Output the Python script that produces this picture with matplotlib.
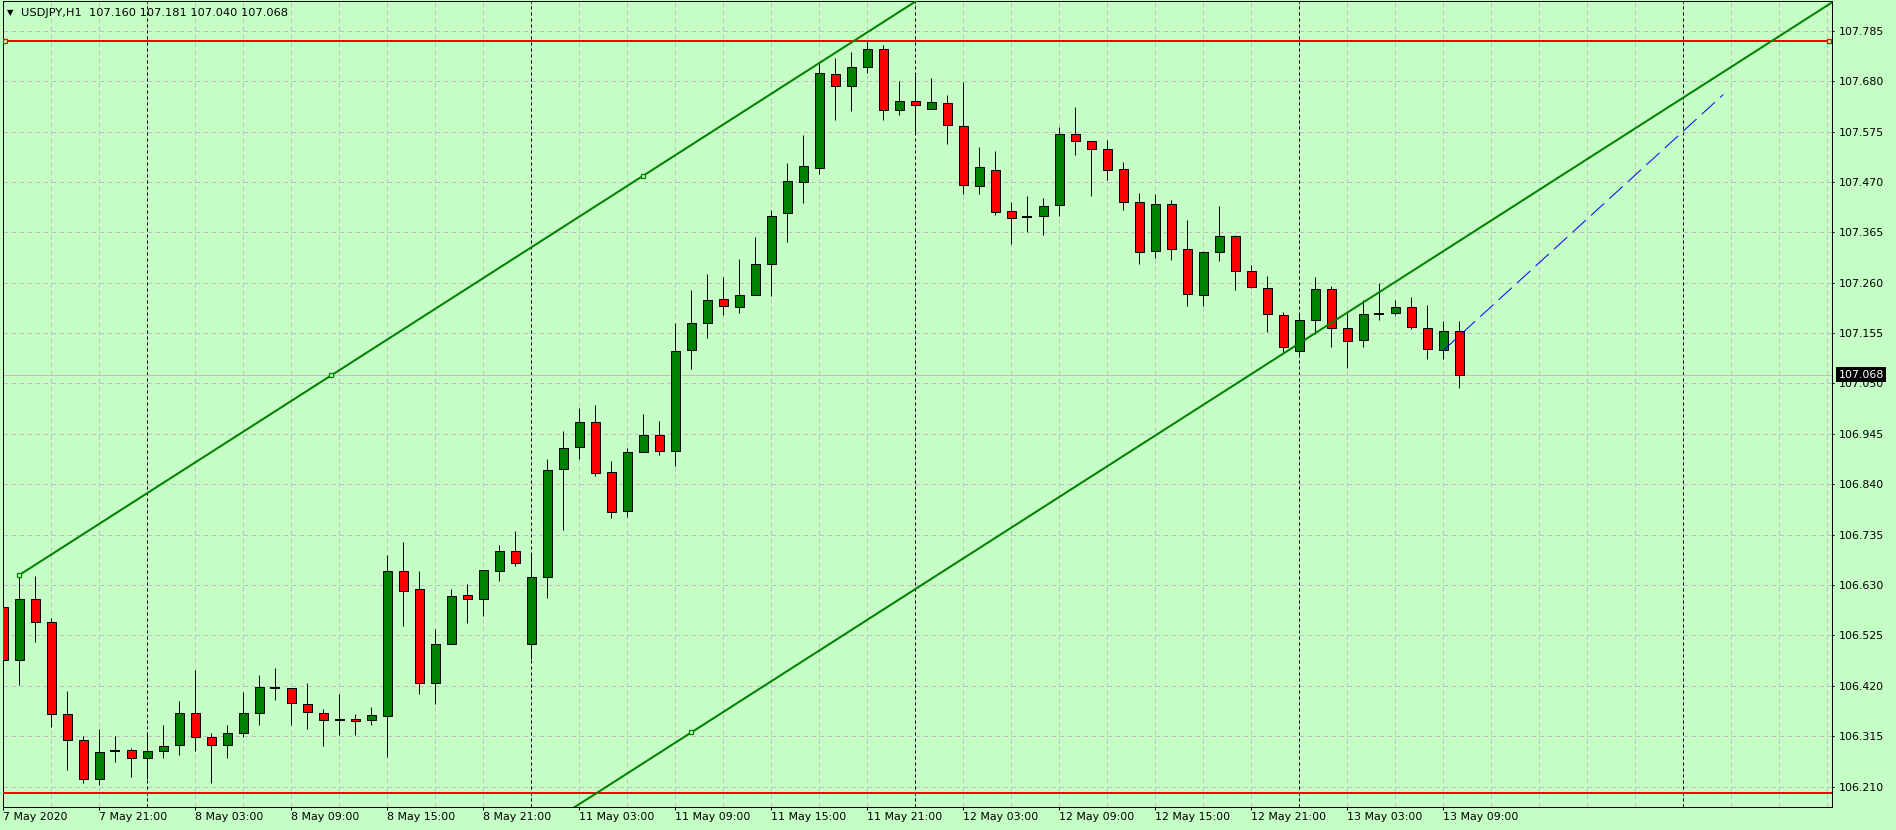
import matplotlib
matplotlib.use("Agg")
import matplotlib.pyplot as plt
from matplotlib.transforms import blended_transform_factory
import numpy as np

# ---------------- data ----------------
symbol = "USDJPY,H1"
opens = [106.584, 106.473, 106.600, 106.553, 106.361, 106.307, 106.226, 106.285, 106.286, 106.270,
         106.284, 106.297, 106.363, 106.313, 106.297, 106.322, 106.363, 106.416, 106.416, 106.382,
         106.363, 106.348, 106.352, 106.348, 106.358, 106.659, 106.621, 106.425, 106.507, 106.609,
         106.602, 106.659, 106.702, 106.507, 106.646, 106.871, 106.917, 106.969, 106.865, 106.785,
         106.907, 106.942, 106.909, 107.119, 107.176, 107.226, 107.209, 107.234, 107.298, 107.405,
         107.469, 107.500, 107.694, 107.669, 107.709, 107.746, 107.619, 107.638, 107.622, 107.634,
         107.586, 107.461, 107.495, 107.409, 107.396, 107.399, 107.422, 107.570, 107.555, 107.538,
         107.497, 107.428, 107.326, 107.424, 107.331, 107.235, 107.323, 107.358, 107.285, 107.250,
         107.192, 107.117, 107.183, 107.246, 107.165, 107.140, 107.195, 107.196, 107.210, 107.165,
         107.119, 107.160]
highs = [106.584, 106.651, 106.649, 106.561, 106.410, 106.316, 106.331, 106.316, 106.290, 106.324,
         106.339, 106.389, 106.453, 106.322, 106.339, 106.407, 106.443, 106.457, 106.416, 106.426,
         106.372, 106.403, 106.362, 106.376, 106.693, 106.720, 106.659, 106.539, 106.622, 106.632,
         106.661, 106.713, 106.742, 106.695, 106.892, 106.950, 106.998, 107.005, 106.888, 106.915,
         106.987, 106.972, 107.177, 107.245, 107.278, 107.272, 107.310, 107.355, 107.411, 107.509,
         107.567, 107.720, 107.728, 107.741, 107.764, 107.755, 107.680, 107.693, 107.687, 107.652,
         107.679, 107.543, 107.535, 107.429, 107.441, 107.437, 107.585, 107.627, 107.555, 107.558,
         107.512, 107.447, 107.445, 107.432, 107.390, 107.327, 107.419, 107.360, 107.296, 107.275,
         107.198, 107.196, 107.272, 107.254, 107.196, 107.225, 107.260, 107.223, 107.231, 107.213,
         107.181, 107.181]
lows = [106.456, 106.421, 106.512, 106.335, 106.244, 106.217, 106.213, 106.261, 106.231, 106.227,
        106.269, 106.275, 106.285, 106.217, 106.269, 106.313, 106.339, 106.390, 106.339, 106.331,
        106.294, 106.318, 106.318, 106.339, 106.271, 106.545, 106.404, 106.383, 106.507, 106.550,
        106.566, 106.639, 106.670, 106.477, 106.604, 106.745, 106.892, 106.858, 106.770, 106.772,
        106.907, 106.900, 106.879, 107.081, 107.144, 107.193, 107.196, 107.234, 107.233, 107.344,
        107.427, 107.487, 107.598, 107.618, 107.696, 107.600, 107.609, 107.575, 107.622, 107.548,
        107.444, 107.444, 107.401, 107.340, 107.365, 107.359, 107.398, 107.527, 107.440, 107.473,
        107.411, 107.299, 107.311, 107.307, 107.212, 107.212, 107.306, 107.244, 107.250, 107.158,
        107.113, 107.107, 107.154, 107.126, 107.083, 107.125, 107.183, 107.192, 107.163, 107.100,
        107.102, 107.040]
closes = [106.473, 106.600, 106.553, 106.361, 106.307, 106.226, 106.282, 106.285, 106.270, 106.284,
          106.294, 106.363, 106.313, 106.297, 106.322, 106.363, 106.417, 106.416, 106.384, 106.365,
          106.349, 106.352, 106.346, 106.359, 106.659, 106.617, 106.425, 106.507, 106.607, 106.602,
          106.661, 106.702, 106.677, 106.646, 106.869, 106.915, 106.969, 106.863, 106.783, 106.907,
          106.942, 106.909, 107.117, 107.176, 107.224, 107.211, 107.234, 107.298, 107.400, 107.471,
          107.503, 107.696, 107.669, 107.709, 107.746, 107.619, 107.639, 107.630, 107.636, 107.588,
          107.463, 107.501, 107.407, 107.395, 107.396, 107.420, 107.570, 107.555, 107.538, 107.495,
          107.428, 107.324, 107.424, 107.330, 107.237, 107.323, 107.358, 107.285, 107.252, 107.194,
          107.125, 107.183, 107.246, 107.165, 107.138, 107.194, 107.195, 107.210, 107.167, 107.121,
          107.160, 107.068]
bar_index = list(range(len(opens)))

time_label_bars = [0, 6, 12, 18, 24, 30, 36, 42, 48, 54, 60, 66, 72, 78, 84, 90]
time_labels = ["7 May 2020", "7 May 21:00", "8 May 03:00", "8 May 09:00", "8 May 15:00",
               "8 May 21:00", "11 May 03:00", "11 May 09:00", "11 May 15:00", "11 May 21:00",
               "12 May 03:00", "12 May 09:00", "12 May 15:00", "12 May 21:00", "13 May 03:00",
               "13 May 09:00"]
grid_bars = list(range(0, 115, 3))
day_separator_bars = [9, 33, 57, 81, 105]
price_ticks = [106.210, 106.315, 106.420, 106.525, 106.630, 106.735, 106.840, 106.945,
               107.050, 107.155, 107.260, 107.365, 107.470, 107.575, 107.680, 107.785]

hline_prices = [107.764, 106.197]
hline_marker_bars = [0.1, 114.1]
channel_p1 = (1, 106.651)      # main line anchor 1
channel_p2 = (40, 107.483)     # main line anchor 2
channel_mid_bar = 20.5
channel_p3 = (43, 106.323)     # parallel line anchor
projection_x = [90, 107.5]
projection_y = [107.119, 107.652]
current_price = 107.068
ohlc_last = [107.160, 107.181, 107.040, 107.068]

# ---------------- style ----------------
BG = "#C5FFC5"
BULL = "#008000"
BEAR = "#FF0000"
GRID = "#C4BCC4"
W, H = 1896, 830
DPI = 100
plt.rcParams["font.family"] = ["DejaVu Sans"]
FS = 7.9

fig = plt.figure(figsize=(W / DPI, H / DPI), dpi=DPI, facecolor=BG)
left_px, right_px, top_px, bot_px = 2.5, 1832, 1.0, 806.7
ax = fig.add_axes([left_px / W, (H - bot_px) / H, (right_px - left_px) / W, (bot_px - top_px) / H])
ax.set_facecolor(BG)

x0 = (left_px - 3.3) / 16
x1 = (right_px - 3.3) / 16
ax.set_xlim(x0, x1)
ax.set_ylim(106.1683, 107.8469)

px = 72.0 / DPI  # points per pixel

# grid (dash lengths in pixels since lw = 1 px and dashes scale with lw)
for g in grid_bars:
    ax.axvline(g, color=GRID, lw=1 * px, dashes=(4.5, 3.5), zorder=0.5)
for p in price_ticks:
    ax.axhline(p, color=GRID, lw=1 * px, dashes=(4.5, 3.5), zorder=0.5)
for d in day_separator_bars:
    ax.axvline(d, color="black", lw=1 * px, dashes=(3, 3), zorder=0.7)

# current price line
ax.axhline(current_price, color="#C0C0C0", lw=1 * px, zorder=0.8)

# candles
x = np.array(bar_index, dtype=float)
o = np.array(opens); c = np.array(closes); h = np.array(highs); l = np.array(lows)
up = c > o
dn = c < o
fl = c == o
ax.vlines(x, l, h, color="black", lw=1 * px, zorder=3)
ax.bar(x[up], (c - o)[up], bottom=o[up], width=0.57, color=BULL, edgecolor="black",
       linewidth=1 * px, zorder=4)
ax.bar(x[dn], (o - c)[dn], bottom=c[dn], width=0.57, color=BEAR, edgecolor="black",
       linewidth=1 * px, zorder=4)
ax.hlines(o[fl], x[fl] - 0.31, x[fl] + 0.31, color="black", lw=2 * px, zorder=4)

# horizontal lines
for hp in hline_prices:
    ax.axhline(hp, color="#FF0000", lw=2 * px, zorder=5)
ax.plot(hline_marker_bars, [hline_prices[0]] * 2, ls="none", marker="s", ms=4.2 * px,
        mfc=BG, mec="#FF0000", mew=1.3 * px, zorder=6)

# channel
slope = (channel_p2[1] - channel_p1[1]) / (channel_p2[0] - channel_p1[0])
xe = 130
ax.plot([channel_p1[0], xe], [channel_p1[1], channel_p1[1] + slope * (xe - channel_p1[0])],
        color=BULL, lw=2 * px, zorder=5)
off = channel_p3[1] - (channel_p1[1] + slope * (channel_p3[0] - channel_p1[0]))
ax.plot([channel_p1[0], xe],
        [channel_p1[1] + off, channel_p1[1] + off + slope * (xe - channel_p1[0])],
        color=BULL, lw=2 * px, zorder=5)
mk_x = [channel_p1[0], channel_mid_bar, channel_p2[0], channel_p3[0]]
mk_y = [channel_p1[1], channel_p1[1] + slope * (channel_mid_bar - channel_p1[0]), channel_p2[1], channel_p3[1]]
ax.plot(mk_x, mk_y, ls="none", marker="s", ms=4.2 * px, mfc=BG, mec=BULL, mew=1.3 * px, zorder=6)

# projection
ax.plot(projection_x, projection_y, color="#0000FF", lw=1 * px, dashes=(18, 7), zorder=5)

# axes styling
for s in ax.spines.values():
    s.set_color("black")
    s.set_linewidth(1 * px)
ax.yaxis.tick_right()
ax.set_yticks(price_ticks)
ax.set_yticklabels([f"{p:.3f}" for p in price_ticks], fontsize=FS)
ax.set_xticks(time_label_bars)
ax.set_xticklabels(time_labels, fontsize=FS)
for lab in ax.get_xticklabels():
    lab.set_horizontalalignment("left")
ax.tick_params(axis="y", direction="out", length=2.5 * px, width=1 * px, pad=4.5 * px, colors="black")
ax.tick_params(axis="x", direction="out", length=3 * px, width=1 * px, pad=2.5 * px, colors="black")
for lab in ax.get_yticklabels():
    lab.set_horizontalalignment("left")

# price label
tr = blended_transform_factory(fig.transFigure, ax.transData)
fig.text(1838.5 / W, current_price, f"{current_price:.3f}", transform=tr, color="white",
         fontsize=FS, va="center", ha="left",
         bbox=dict(boxstyle="square,pad=0.22", facecolor="black", edgecolor="none"))

# title
fig.text(6.5 / W, 1 - 12.5 / H, "\u25BC", fontsize=6.0, va="center", ha="left", color="black")
fig.text(21 / W, 1 - 12.7 / H, symbol + "  " + " ".join(f"{v:.3f}" for v in ohlc_last),
         fontsize=8.2, va="center", ha="left", color="black")

fig.savefig("out.png", dpi=DPI, facecolor=BG)
